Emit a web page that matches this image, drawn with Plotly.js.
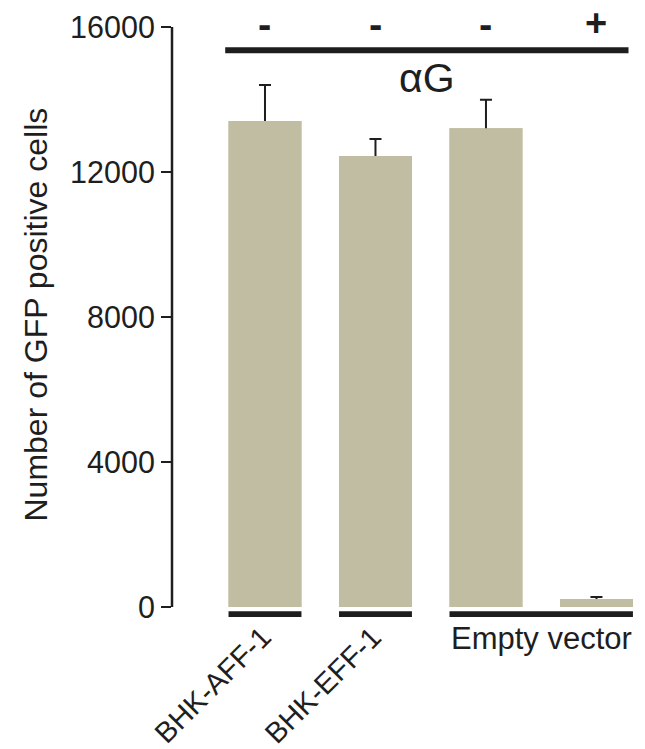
<!DOCTYPE html>
<html>
<head>
<meta charset="utf-8">
<script src="https://cdn.plot.ly/plotly-3.0.1.min.js"></script>
<style>html,body{margin:0;padding:0;background:#fff;}#chart{width:645px;height:749px;}</style>
</head>
<body>
<div id="chart"></div>
<script>
// ---- data ----
var barIndex = [0, 1, 2, 3];
var values = [13410, 12440, 13210, 220];
var errors = [990, 470, 780, 56];
var treatment = ['-', '-', '-', '+'];
var treatmentLabel = 'αG';
var groupLabels = ['BHK-AFF-1', 'BHK-EFF-1', 'Empty vector'];
var groupStart = [0, 1, 2];
var groupEnd = [0, 1, 3];
var groupAngle = [-45, -45, 0];
var yTicks = [0, 4000, 8000, 12000, 16000];
var yTitle = 'Number of GFP positive cells';

// ---- style ----
var barColor = '#c1bda3';
var ink = '#1e1e1e';
var fontFam = 'Liberation Sans, Arial, sans-serif';
var halfBar = 0.33;

var traces = [
  {type: 'bar', x: barIndex, y: values, marker: {color: barColor, line: {width: 0}},
   error_y: {type: 'data', array: errors, symmetric: true, visible: true, color: ink, thickness: 2, width: 6},
   hoverinfo: 'skip', showlegend: false},
  {type: 'bar', x: barIndex, y: values, marker: {color: barColor, line: {width: 0}},
   hoverinfo: 'skip', showlegend: false}
];

var shapes = [];
// y axis line
shapes.push({type: 'line', xref: 'paper', yref: 'y', x0: 0, x1: 0, y0: 0, y1: yTicks[yTicks.length - 1],
  line: {color: ink, width: 2.5}});
// group underlines
for (var g = 0; g < groupLabels.length; g++) {
  shapes.push({type: 'rect', xref: 'x', yref: 'y', x0: groupStart[g] - halfBar, x1: groupEnd[g] + halfBar,
    y0: -115, y1: -275, fillcolor: ink, line: {width: 0}});
}
// treatment line
shapes.push({type: 'line', xref: 'x', yref: 'y', x0: barIndex[0] - 0.36, x1: barIndex[barIndex.length - 1] + 0.29,
  y0: 15360, y1: 15360, line: {color: ink, width: 6}});

var annotations = [];
for (var i = 0; i < treatment.length; i++) {
  annotations.push({xref: 'x', yref: 'paper', x: barIndex[i], y: 1, yshift: treatment[i] === '+' ? 4 : 3,
    xanchor: 'center', yanchor: 'middle', showarrow: false, text: '<b>' + treatment[i] + '</b>',
    font: {family: fontFam, size: treatment[i] === '+' ? 38 : 40, color: ink}});
}
annotations.push({xref: 'x', yref: 'y', x: 1.47, y: 14590, xanchor: 'center', yanchor: 'middle', showarrow: false,
  text: treatmentLabel, font: {family: fontFam, size: 41, color: ink}});
for (var g2 = 0; g2 < groupLabels.length; g2++) {
  var c = (groupStart[g2] + groupEnd[g2]) / 2;
  if (groupAngle[g2] !== 0) {
    annotations.push({xref: 'x', yref: 'paper', x: c, y: 0, xshift: 15, yshift: 2, xanchor: 'right', yanchor: 'top',
      textangle: groupAngle[g2], showarrow: false, text: groupLabels[g2],
      font: {family: fontFam, size: 29, color: ink}});
  } else {
    annotations.push({xref: 'x', yref: 'paper', x: c, y: 0, yshift: 1, xanchor: 'center', yanchor: 'top',
      showarrow: false, text: groupLabels[g2], font: {family: fontFam, size: 31, color: ink}});
  }
}
annotations.push({xref: 'paper', yref: 'paper', x: 0, y: 0.5, xshift: -137, yshift: 9, xanchor: 'center', yanchor: 'middle',
  textangle: -90, showarrow: false, text: yTitle, font: {family: fontFam, size: 32, color: ink}});

var layout = {
  width: 645, height: 749,
  margin: {l: 172, r: 5, t: 27, b: 129, pad: 0},
  paper_bgcolor: '#fff', plot_bgcolor: '#fff',
  barmode: 'overlay', bargap: 0.34,
  showlegend: false,
  xaxis: {range: [-0.8416, 3.394], showticklabels: false, showline: false, showgrid: false, zeroline: false,
    ticks: '', fixedrange: true},
  yaxis: {range: [-359, 16000], tickvals: yTicks, ticktext: yTicks.map(String), showline: false, showgrid: false,
    zeroline: false, ticks: 'outside', ticklen: 10, tickwidth: 2.5, tickcolor: ink,
    tickfont: {family: fontFam, size: 30.5, color: ink}, fixedrange: true},
  shapes: shapes,
  annotations: annotations
};

Plotly.newPlot('chart', traces, layout, {staticPlot: true});
</script>
</body>
</html>
